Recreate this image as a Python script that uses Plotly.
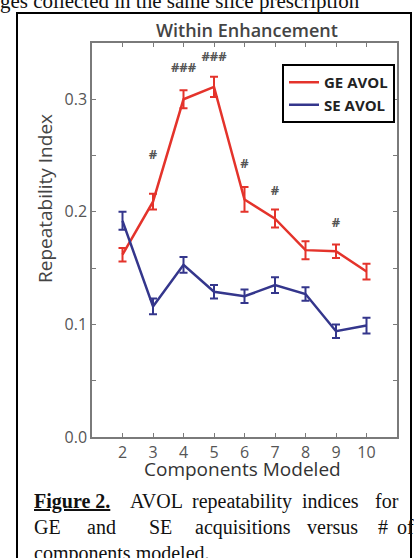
import plotly.graph_objects as go

# ---- data ----
components = [2, 3, 4, 5, 6, 7, 8, 9, 10]
ge_avol = [0.162, 0.209, 0.300, 0.311, 0.211, 0.194, 0.166, 0.165, 0.147]
ge_err = [0.006, 0.007, 0.008, 0.009, 0.011, 0.008, 0.008, 0.006, 0.007]
se_avol = [0.192, 0.116, 0.153, 0.129, 0.125, 0.135, 0.127, 0.094, 0.099]
se_err = [0.008, 0.007, 0.007, 0.006, 0.006, 0.007, 0.006, 0.006, 0.007]
sig_x = [3, 4, 5, 6, 7, 9]
sig_y = [0.250, 0.327, 0.337, 0.242, 0.218, 0.189]
sig_text = ["#", "###", "###", "#", "#", "#"]
y_ticks = [0.0, 0.1, 0.2, 0.3]
y_tick_labels = ["0.0", "0.1", "0.2", "0.3"]

W, H = 414, 558
L, R, T, B = 92, 17, 43, 121
PW, PH = W - L - R, H - T - B

def px(x):
    return (x - L) / PW

def py(y):
    return (H - B - y) / PH

RED = "#e4332b"
BLUE = "#34368c"
AX = "#7a7a7a"
SANS = "Open Sans"
SERIF = "Liberation Serif"

fig = go.Figure()
fig.add_trace(go.Scatter(
    x=components, y=ge_avol, mode="lines", name="GE AVOL",
    line=dict(color=RED, width=2.5),
    error_y=dict(type="data", array=ge_err, color=RED, thickness=2, width=4),
))
fig.add_trace(go.Scatter(
    x=components, y=se_avol, mode="lines", name="SE AVOL",
    line=dict(color=BLUE, width=2.5),
    error_y=dict(type="data", array=se_err, color=BLUE, thickness=2, width=4),
))
fig.add_trace(go.Scatter(
    x=sig_x, y=sig_y, mode="text", text=sig_text, showlegend=False,
    textfont=dict(family=SANS, size=13, color="#555555", weight="bold"),
    hoverinfo="skip",
))

fig.update_xaxes(
    range=[1, 11], tickvals=components, ticktext=[str(c) for c in components],
    showline=True, linecolor=AX, linewidth=1.5, mirror="allticks",
    ticks="inside", ticklen=4, tickcolor=AX, showgrid=False, zeroline=False,
    tickfont=dict(family=SANS, size=16, color="#555555"),
)
fig.update_yaxes(
    range=[0, 0.35], tickvals=y_ticks, ticktext=y_tick_labels,
    showline=True, linecolor=AX, linewidth=1.5, mirror="allticks",
    ticks="inside", ticklen=4, tickcolor=AX, showgrid=False, zeroline=False,
    minor=dict(dtick=0.05, ticks="inside", ticklen=4, tickcolor=AX),
    tickfont=dict(family=SANS, size=16, color="#555555"),
)

ann = []
# cut-off text line at top of page
ann.append(dict(text="ges collected in the same slice prescription", x=px(-2), y=py(1),
                xref="paper", yref="paper", xanchor="left", yanchor="middle",
                showarrow=False, font=dict(family=SERIF, size=21, color="#111111")))
# chart title
ann.append(dict(text="Within Enhancement", x=px(247), y=py(30), xref="paper", yref="paper",
                xanchor="center", yanchor="middle", showarrow=False,
                font=dict(family=SANS, size=18, color="#444444", weight=600)))
# y-axis title
ann.append(dict(text="Repeatability Index", x=px(45), y=py(199), xref="paper", yref="paper",
                xanchor="center", yanchor="middle", showarrow=False, textangle=-90,
                font=dict(family=SANS, size=19, color="#444444")))
# x-axis title
ann.append(dict(text="Components Modeled", x=px(242), y=py(469), xref="paper", yref="paper",
                xanchor="center", yanchor="middle", showarrow=False,
                font=dict(family=SANS, size=19, color="#333333")))
# caption words (justified)
caption = [
    (501, [(32, "<b><u>Figure 2.</u></b>"), (128, "AVOL"), (190, "repeatability"),
           (300, "indices"), (373, "for")]),
    (527, [(32, "GE"), (85, "and"), (147, "SE"), (193, "acquisitions"),
           (305, "versus"), (376, "#"), (395, "of")]),
    (553, [(32, "components modeled.")]),
]
for yy, words in caption:
    for xx, w in words:
        ann.append(dict(text=w, x=px(xx), y=py(yy), xref="paper", yref="paper",
                        xanchor="left", yanchor="middle", showarrow=False,
                        font=dict(family=SERIF, size=20, color="#111111")))

fig.update_layout(
    width=W, height=H, margin=dict(l=L, r=R, t=T, b=B, pad=0),
    paper_bgcolor="white", plot_bgcolor="white",
    annotations=ann,
    shapes=[dict(type="rect", xref="paper", yref="paper",
                 x0=px(17), x1=px(411), y0=py(13), y1=py(575),
                 line=dict(color="black", width=2), layer="below")],
    legend=dict(x=px(282), y=py(64), xanchor="left", yanchor="top",
                bordercolor="black", borderwidth=2, bgcolor="white",
                font=dict(family=SANS, size=15, color="#222222", weight="bold"),
                itemwidth=30, tracegroupgap=0),
    showlegend=True,
)

fig.write_html("out.html", config={"displayModeBar": False},
               post_script="document.body.style.margin='0';document.body.style.padding='0';")
